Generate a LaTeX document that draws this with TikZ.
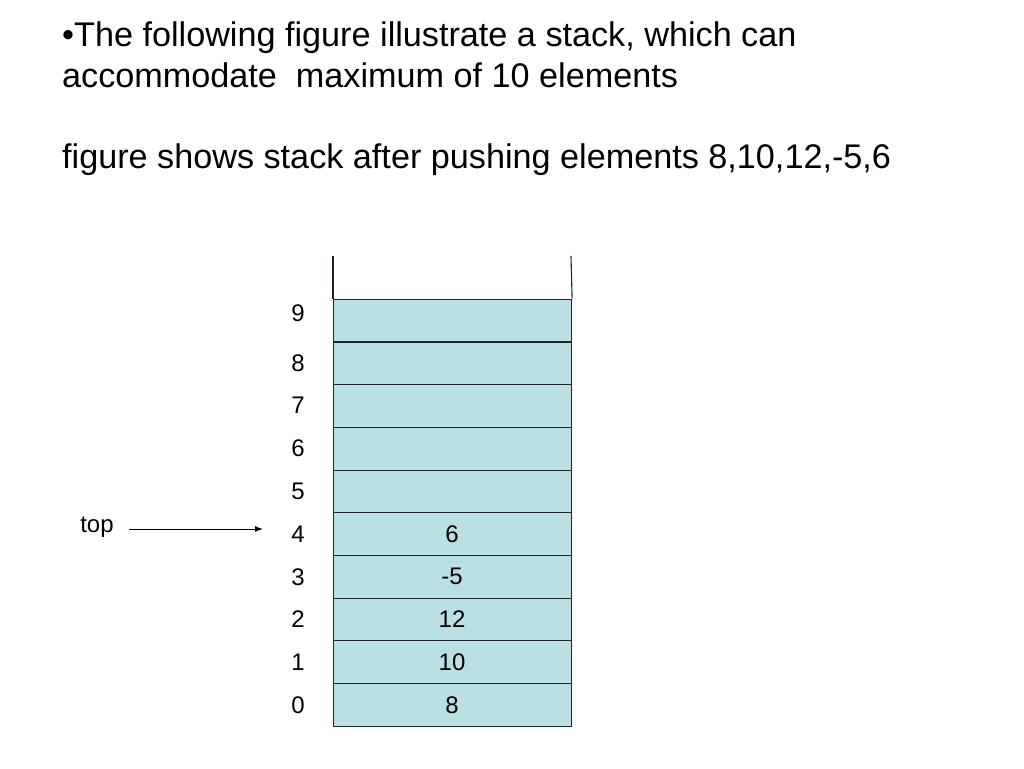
\documentclass[tikz,border=0pt]{standalone}
\usepackage{fontspec}
\setmainfont{Liberation Sans}
\usetikzlibrary{arrows.meta}
\definecolor{cellfill}{RGB}{187,224,227}
\definecolor{lineclr}{RGB}{30,40,40}
\begin{document}
\begin{tikzpicture}[x=1pt,y=-1pt,
  cell/.style={draw=lineclr,line width=1.1pt,fill=cellfill,minimum width=238pt,minimum height=42.7pt,inner sep=0pt,anchor=north west,font=\fontsize{24}{28}\selectfont},
  idx/.style={font=\fontsize{24}{28}\selectfont,inner sep=0pt,anchor=base},
  title/.style={font=\fontsize{34.2}{40}\selectfont,inner sep=0pt,anchor=base west}]
\useasboundingbox (0,0) rectangle (1024,768);
\fill[white] (0,0) rectangle (1024,768);
\node[title] (t1) at (62,46) {•The following figure illustrate a stack, which can};
\node[title] (t2) at (62,87) {accommodate\ \ maximum of 10 elements};
\node[title] (t3) at (62,168) {figure shows stack after pushing elements 8,10,12,-5,6};
% stack cells
\foreach \i/\v in {0/8,1/10,2/12,3/-5,4/6,5/,6/,7/,8/,9/} {
  \node[cell] (c\i) at (333,{683-42.7*\i}) {};
  \node[idx] (v\i) at (452,{713-42.7*\i}) {\v};
}
\foreach \i/\y in {0/713,1/670,2/627,3/585,4/542,5/499,6/456,7/413,8/371,9/321} {
  \node[idx] (l\i) at (298,\y) {\i};
}
\coordinate (wl) at (333,256);
\coordinate (wr) at (571,256);
\draw[lineclr,line width=1.1pt] (wl) -- (c9.north west);
\draw[lineclr,line width=1.1pt] (wr) -- (c9.north east);
\node[idx] (tp) at (97,532) {top};
\coordinate (as) at (129,529);
\coordinate (ae) at (263,529);
\draw[line width=1pt,-{Latex[length=8pt,width=6pt]}] (as) -- (ae);
\end{tikzpicture}
\end{document}
